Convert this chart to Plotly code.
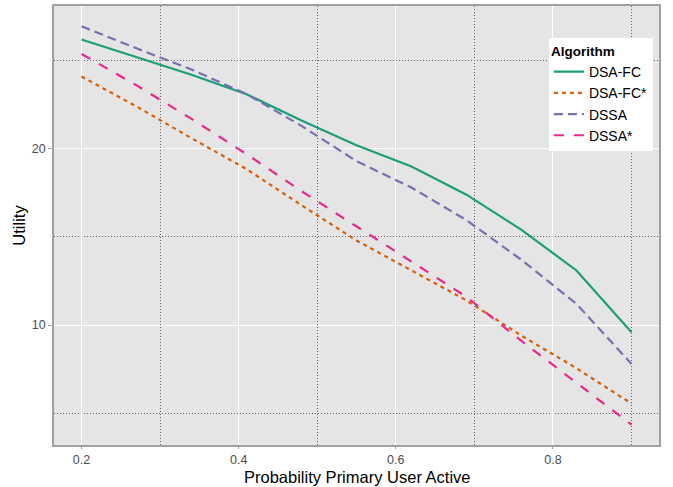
import plotly.graph_objects as go

x_vals = [0.2, 0.27, 0.34, 0.41, 0.48, 0.55, 0.62, 0.69, 0.76, 0.83, 0.9]
dsa_fc = [26.2, 25.2, 24.2, 23.1, 21.6, 20.2, 19.0, 17.4, 15.4, 13.1, 9.6]
dsa_fc_star = [24.1, 22.4, 20.6, 18.85, 16.8, 14.8, 13.1, 11.4, 9.4, 7.55, 5.55]
dssa = [26.95, 25.7, 24.5, 23.1, 21.3, 19.3, 17.8, 15.95, 13.7, 11.2, 7.8]
dssa_star = [25.38, 23.6, 21.7, 19.7, 17.6, 15.6, 13.6, 11.6, 9.1, 6.7, 4.35]

series = [
    ("DSA-FC", dsa_fc, "#1B9E77", "solid"),
    ("DSA-FC*", dsa_fc_star, "#D95F02", "4px,4px"),
    ("DSSA", dssa, "#7570B3", "9px,5px"),
    ("DSSA*", dssa_star, "#E7298A", "10px,10px"),
]

FONT = "Liberation Sans, Arial"

fig = go.Figure()
for name, ys, col, dash in series:
    fig.add_trace(go.Scatter(x=x_vals, y=ys, mode="lines", name=name,
                             line=dict(color=col, width=2.2, dash=dash)))

axis_common = dict(
    showline=True, linecolor="#A0A0A0", linewidth=1.5, mirror=True,
    ticks="outside", tickcolor="#A0A0A0", tickwidth=1,
    gridcolor="white", gridwidth=1.2, zeroline=False,
    tickfont=dict(family=FONT, size=12.5, color="#4D4D4D"),
)

fig.update_xaxes(
    range=[0.165, 0.935], tickvals=[0.2, 0.4, 0.6, 0.8],
    ticktext=["0.2", "0.4", "0.6", "0.8"], ticklen=2,
    minor=dict(tickvals=[0.3, 0.5, 0.7, 0.9], showgrid=True, gridcolor="#666666",
               griddash="1px,2px", gridwidth=1, ticks=""),
    **axis_common)
fig.update_yaxes(
    range=[3.2, 28.1], tickvals=[10, 20], ticklen=4,
    minor=dict(tickvals=[5, 15, 25], showgrid=True, gridcolor="#666666",
               griddash="1px,2px", gridwidth=1, ticks=""),
    title=dict(text="Utility", standoff=2,
               font=dict(family=FONT, size=16.5, color="black")),
    **axis_common)

fig.add_annotation(text="Probability Primary User Active", xref="paper", yref="paper",
                   x=0.5, y=-0.074, xanchor="center", yanchor="middle",
                   showarrow=False, font=dict(family=FONT, size=16.5, color="black"))

fig.update_layout(
    width=673, height=487,
    margin=dict(l=54, r=14, t=4, b=42),
    plot_bgcolor="#E5E5E5", paper_bgcolor="white",
    font=dict(family=FONT),
    showlegend=True,
    legend=dict(
        x=0.818, y=0.926, xanchor="left", yanchor="top",
        bgcolor="white", borderwidth=0,
        title=dict(text="<b>Algorithm</b>", font=dict(size=13.5, color="black")),
        font=dict(size=14, color="black"),
        itemwidth=30, tracegroupgap=0,
    ),
)

fig.write_html("out.html")
